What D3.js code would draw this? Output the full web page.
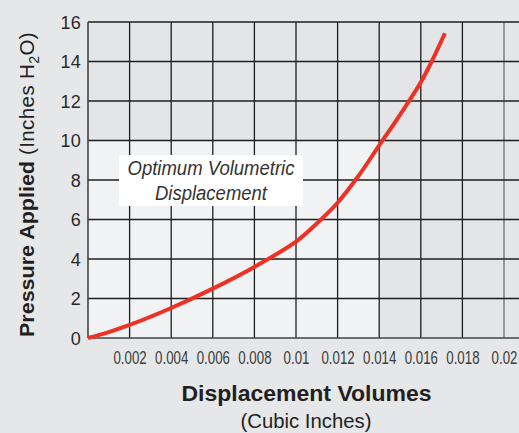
<!DOCTYPE html>
<html>
<head>
<meta charset="utf-8">
<script src="https://cdn.jsdelivr.net/npm/d3@7"></script>
<style>
  body { margin: 0; background: #e6e7e8; }
  svg { display: block; }
</style>
</head>
<body>
<script>
// Pressure vs displacement chart

// data
var volumes  = [0, 0.001, 0.002, 0.004, 0.006, 0.008, 0.01, 0.011, 0.012, 0.013, 0.014, 0.015, 0.016, 0.0165, 0.01716];
var pressure = [0, 0.3, 0.66, 1.52, 2.5, 3.6, 4.88, 5.8, 6.85, 8.2, 9.75, 11.3, 12.95, 13.95, 15.43];
var xTicks = [0.002, 0.004, 0.006, 0.008, 0.01, 0.012, 0.014, 0.016, 0.018, 0.02];
var xTickLabels = ["0.002", "0.004", "0.006", "0.008", "0.01", "0.012", "0.014", "0.016", "0.018", "0.02"];
var yTicks = [0, 2, 4, 6, 8, 10, 12, 14, 16];
// the lighter "optimum" zone
var optimumX = [0, 0.014];
var optimumY = [0, 10];

var width = 519, height = 433;
var font = "'Liberation Sans', Arial, Helvetica, sans-serif";
var svg = d3.select("body").append("svg").attr("width", width).attr("height", height);

var x = d3.scaleLinear().domain([0, 0.02]).range([88, 504]);
var y = d3.scaleLinear().domain([0, 16]).range([338, 22]);
var xMax = x.invert(width);

// plot background
svg.append("rect")
  .attr("x", x(0)).attr("y", y(16))
  .attr("width", x(xMax) - x(0)).attr("height", y(0) - y(16))
  .attr("fill", "#e4e5e7");

svg.append("rect")
  .attr("x", x(optimumX[0])).attr("y", y(optimumY[1]))
  .attr("width", x(optimumX[1]) - x(optimumX[0])).attr("height", y(optimumY[0]) - y(optimumY[1]))
  .attr("fill", "#f1f2f3");

// grid
var gridX = d3.range(1, 11).map(function(i){ return i * 0.002; });
svg.append("g").selectAll("line").data(gridX).enter().append("line")
  .attr("x1", function(d){ return x(d); }).attr("x2", function(d){ return x(d); })
  .attr("y1", y(16)).attr("y2", y(0))
  .attr("stroke", function(d){ return d > 0.019 ? "#707070" : "#1e1e1e"; })
  .attr("stroke-width", 1.3);

svg.append("g").selectAll("line").data(yTicks.slice(1)).enter().append("line")
  .attr("x1", x(0)).attr("x2", width)
  .attr("y1", function(d){ return y(d); }).attr("y2", function(d){ return y(d); })
  .attr("stroke", "#1e1e1e")
  .attr("stroke-width", 1.3);

// axis lines
svg.append("line").attr("x1", x(0)).attr("x2", x(0)).attr("y1", y(16)).attr("y2", y(0))
  .attr("stroke", "#444").attr("stroke-width", 1.6);
svg.append("line").attr("x1", x(0)).attr("x2", width).attr("y1", y(0)).attr("y2", y(0))
  .attr("stroke", "#444").attr("stroke-width", 1.6);

// tick labels
var xAxis = d3.axisBottom(x).tickValues(xTicks).tickSize(0)
  .tickFormat(function(d, i){ return xTickLabels[i]; });
var gx = svg.append("g").attr("transform", "translate(0," + y(0) + ")").call(xAxis);
gx.select(".domain").remove();
gx.selectAll("text")
  .attr("y", 26).attr("dy", 0)
  .attr("transform", "scale(0.76,1)")
  .attr("font-family", font)
  .attr("font-size", "17.5px").attr("fill", "#3a3a3a");

var yAxis = d3.axisLeft(y).tickValues(yTicks).tickSize(0);
var gy = svg.append("g").attr("transform", "translate(" + x(0) + ",0)").call(yAxis);
gy.select(".domain").remove();
gy.selectAll("text")
  .attr("x", -7).attr("dy", "0.36em")
  .attr("font-family", font)
  .attr("letter-spacing", "0.3px")
  .attr("font-size", "18px").attr("fill", "#2a2a2a");

// annotation box
svg.append("rect")
  .attr("x", 119).attr("y", 155).attr("width", 184).attr("height", 51)
  .attr("fill", "#ffffff");
svg.append("text")
  .attr("x", 127.5).attr("y", 175)
  .attr("font-family", font).attr("font-style", "italic")
  .attr("font-size", "20px").attr("fill", "#333")
  .attr("textLength", 167).attr("lengthAdjust", "spacingAndGlyphs")
  .text("Optimum Volumetric");
svg.append("text")
  .attr("x", 155).attr("y", 200)
  .attr("font-family", font).attr("font-style", "italic")
  .attr("font-size", "20px").attr("fill", "#333")
  .attr("textLength", 112).attr("lengthAdjust", "spacingAndGlyphs")
  .text("Displacement");

// curve
var pts = volumes.map(function(v, i){ return [v, pressure[i]]; });
var line = d3.line()
  .x(function(d){ return x(d[0]); })
  .y(function(d){ return y(d[1]); })
  .curve(d3.curveCatmullRom.alpha(0.5));
svg.append("path").datum(pts)
  .attr("d", line)
  .attr("fill", "none")
  .attr("stroke", "#ee3124")
  .attr("stroke-width", 4);

// axis titles
svg.append("text")
  .attr("x", 181.5).attr("y", 401)
  .attr("font-family", font)
  .attr("font-weight", "bold").attr("font-size", "22px").attr("fill", "#231f20")
  .attr("textLength", 250).attr("lengthAdjust", "spacingAndGlyphs")
  .text("Displacement Volumes");
svg.append("text")
  .attr("x", 240.5).attr("y", 428)
  .attr("font-family", font)
  .attr("font-size", "20px").attr("fill", "#231f20")
  .attr("textLength", 131).attr("lengthAdjust", "spacingAndGlyphs")
  .text("(Cubic Inches)");

svg.append("text")
  .attr("transform", "translate(34,337) rotate(-90)")
  .attr("font-family", font)
  .attr("font-weight", "bold").attr("font-size", "21px").attr("fill", "#231f20")
  .attr("textLength", 176).attr("lengthAdjust", "spacingAndGlyphs")
  .text("Pressure Applied");
var yt = svg.append("text")
  .attr("transform", "translate(34,155) rotate(-90)")
  .attr("font-family", font)
  .attr("font-size", "20.5px").attr("fill", "#231f20")
  .attr("letter-spacing", "0.4px");
yt.append("tspan").text("(Inches H");
yt.append("tspan").attr("font-size", "14px").attr("dy", 5).text("2");
yt.append("tspan").attr("dy", -5).text("O)");
</script>
</body>
</html>
